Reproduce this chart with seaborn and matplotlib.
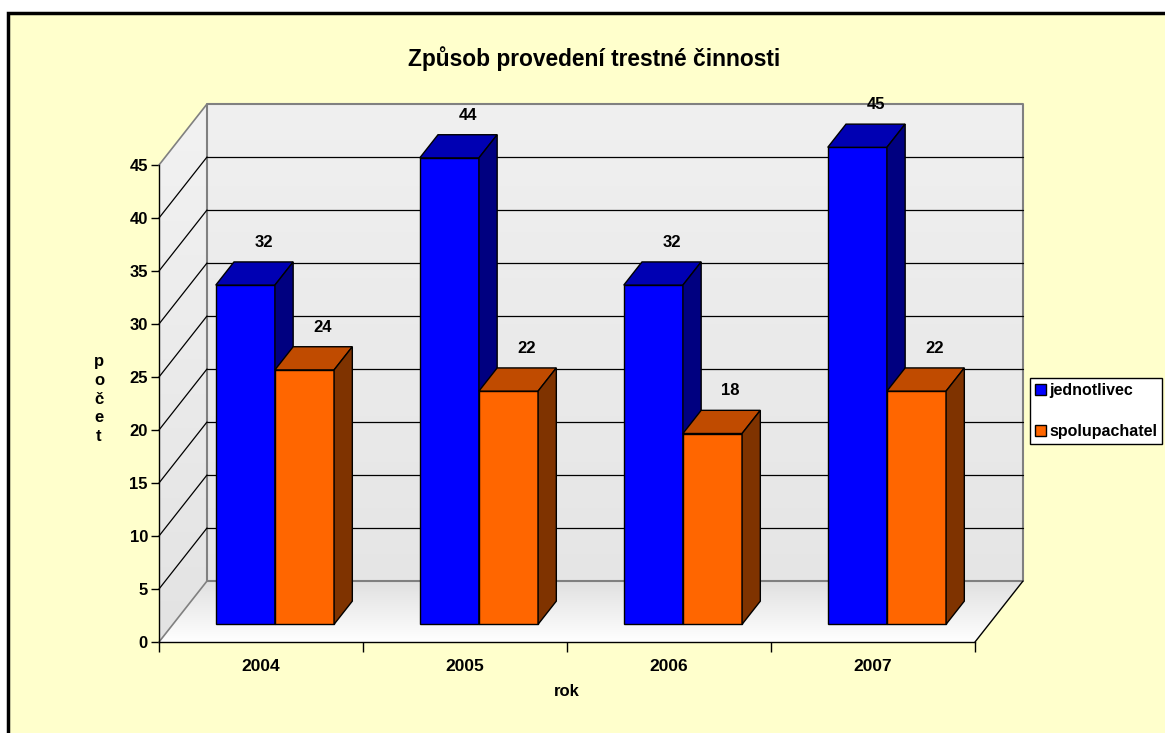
import numpy as np
import pandas as pd
import seaborn as sns
import matplotlib.pyplot as plt
from matplotlib.patches import Polygon, Rectangle, Patch

# data
roky = ['2004', '2005', '2006', '2007']
jednotlivec = [32, 44, 32, 45]
spolupachatel = [24, 22, 18, 22]
serie = ['jednotlivec', 'spolupachatel']
y_ticks = list(range(0, 50, 5))

df = pd.DataFrame({
    'rok': roky * 2,
    'pocet': jednotlivec + spolupachatel,
    'typ': [serie[0]] * len(roky) + [serie[1]] * len(roky),
})

front_cols = ['#0000FF', '#FF6600']
top_cols = ['#0000B3', '#C04B00']
side_cols = ['#000080', '#7F3300']

sns.set_style('white')
plt.rcParams['font.family'] = ['Liberation Sans', 'DejaVu Sans']
plt.rcParams['font.weight'] = 'bold'
for k in ['text.color', 'axes.labelcolor', 'xtick.color', 'ytick.color']:
    plt.rcParams[k] = 'black'

W, H = 1165, 733
fig = plt.figure(figsize=(W / 100, H / 100), dpi=100)
fig.patch.set_facecolor('white')
fig.add_artist(Rectangle((8 / W, -0.05), 1.2, (H - 13) / H + 0.05, transform=fig.transFigure,
                         facecolor='#FFFFCC', edgecolor='black', linewidth=2.5, zorder=0))

# front plane of the 3d box
ax = fig.add_axes([159 / W, (H - 642) / H, 816 / W, 477 / H])

sns.barplot(data=df, x='rok', y='pocet', hue='typ', palette=front_cols, width=0.58,
            saturation=1, edgecolor='black', linewidth=1, errorbar=None, legend=False, ax=ax)
bars = list(ax.patches)

ax.set_xlim(-0.5, 3.5)
ax.set_ylim(0, 45)
ax.patch.set_visible(False)

# depth of the box in data units (48 px right, 61 px up)
DX = 48 / (816 / 4)
DY = 61 / (477 / 45)


def shaded(pts, c_bottom, c_top, z):
    poly = Polygon(pts, closed=True, facecolor='none', edgecolor='none', zorder=z, clip_on=False)
    ax.add_patch(poly)
    xs = [p[0] for p in pts]
    ys = [p[1] for p in pts]
    t = np.linspace(0, 1, 64).reshape(-1, 1, 1)
    img = (1 - t) * np.array(c_bottom) + t * np.array(c_top)
    im = ax.imshow(img, origin='lower', aspect='auto', interpolation='bilinear',
                   extent=(min(xs), max(xs), min(ys), max(ys)), zorder=z)
    im.set_clip_box(fig.bbox)
    im.set_clip_path(poly)


x0, x1, ytop = -0.5, 3.5, y_ticks[-1]
shaded([(x0, 0), (x1, 0), (x1 + DX, DY), (x0 + DX, DY)], (1, 1, 1), (0.88, 0.88, 0.88), 0.5)
shaded([(x0 + DX, DY), (x1 + DX, DY), (x1 + DX, ytop + DY), (x0 + DX, ytop + DY)],
       (0.9, 0.9, 0.9), (0.94, 0.94, 0.94), 0.5)
shaded([(x0, 0), (x0 + DX, DY), (x0 + DX, ytop + DY), (x0, ytop)],
       (0.89, 0.89, 0.89), (0.95, 0.95, 0.95), 0.5)

# wall edges and grid
g = '#808080'
kw = dict(clip_on=False, zorder=1)
ax.plot([x0 + DX, x1 + DX, x1 + DX, x0 + DX, x0 + DX], [DY, DY, ytop + DY, ytop + DY, DY], color=g, lw=1.5, **kw)
ax.plot([x0, x0 + DX], [ytop, ytop + DY], color=g, lw=1.2, **kw)
ax.plot([x0, x0 + DX], [0, DY], color=g, lw=1.2, **kw)
ax.plot([x1, x1 + DX], [0, DY], color='black', lw=1, **kw)
for v in y_ticks[1:-1]:
    ax.plot([x0 + DX, x1 + DX], [v + DY, v + DY], color='black', lw=0.9, **kw)
    ax.plot([x0, x0 + DX], [v, v + DY], color='black', lw=0.9, **kw)

# 3d bars
f0, fb = 0.29, 0.38
for i, vals in enumerate([jednotlivec, spolupachatel]):
    for j, v in enumerate(vals):
        p = bars[i * len(roky) + j]
        bx, by = f0 * DX, f0 * DY
        ddx, ddy = fb * DX, fb * DY
        p.set_x(p.get_x() + bx)
        p.set_y(by)
        p.set_zorder(3 + i * 0.5)
        p.set_clip_on(False)
        a, w, h = p.get_x(), p.get_width(), p.get_height()
        b = a + w
        yt = by + h
        top = Polygon([(a, yt), (b, yt), (b + ddx, yt + ddy), (a + ddx, yt + ddy)],
                      facecolor=top_cols[i], edgecolor='black', lw=1, zorder=3.1 + i * 0.5, clip_on=False)
        side = Polygon([(b, by), (b + ddx, by + ddy), (b + ddx, yt + ddy), (b, yt)],
                       facecolor=side_cols[i], edgecolor='black', lw=1, zorder=3.1 + i * 0.5, clip_on=False)
        ax.add_patch(top)
        ax.add_patch(side)
        ax.annotate(str(v), xy=(a + w / 2 + ddx, yt + ddy), xytext=(0, 14), textcoords='offset points',
                    ha='center', va='center', fontsize=12, fontweight='bold', annotation_clip=False, zorder=5)

# axes
for s in ['top', 'right']:
    ax.spines[s].set_visible(False)
for s in ['left', 'bottom']:
    ax.spines[s].set_color('black')
    ax.spines[s].set_linewidth(1)
    ax.spines[s].set_zorder(2)
ax.spines['left'].set_bounds(0, ytop)
ax.spines['bottom'].set_bounds(x0, x1)
ax.set_yticks(y_ticks)
ax.tick_params(axis='y', direction='out', length=6, width=1, labelsize=12, pad=2, left=True)
ax.set_xticks(range(len(roky)))
ax.set_xticklabels(roky)
ax.set_xticks(np.arange(-0.5, len(roky), 1), minor=True)
ax.tick_params(axis='x', which='major', length=0, labelsize=12.5, pad=12)
ax.tick_params(axis='x', which='minor', direction='out', length=7, width=1, bottom=True)
for lab in ax.get_xticklabels() + ax.get_yticklabels():
    lab.set_fontweight('bold')
ax.set_xlabel('')
ax.set_ylabel('')

fig.text(594 / W, 1 - 59 / H, 'Způsob provedení trestné činnosti', ha='center', va='center',
         fontsize=16.4, fontweight='bold')
fig.text(567 / W, 1 - 691 / H, 'rok', ha='center', va='center', fontsize=12, fontweight='bold')
fig.text(99 / W, 1 - 399 / H, 'p\no\nč\ne\nt', ha='center', va='center', fontsize=12,
         fontweight='bold', linespacing=1.3)

handles = [Patch(facecolor=c, edgecolor='black', lw=1) for c in front_cols]
leg = fig.legend(handles, serie, loc='center right', bbox_to_anchor=(1162 / W, 1 - 411 / H),
                 frameon=True, fancybox=False, edgecolor='black', facecolor='white', framealpha=1,
                 handlelength=0.7, handleheight=0.7, handletextpad=0.2, labelspacing=1.6,
                 borderpad=0.3, borderaxespad=0, prop={'size': 11.5, 'weight': 'bold'})
leg.get_frame().set_linewidth(1)

fig.savefig('out.png', dpi=100)
